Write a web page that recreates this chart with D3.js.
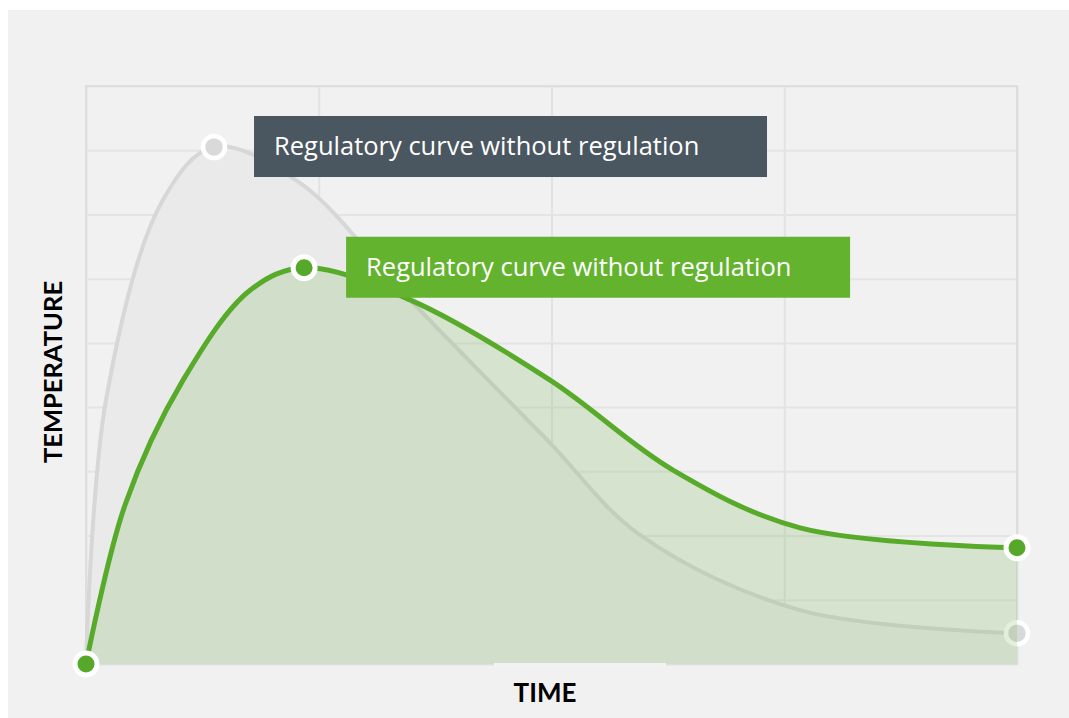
<!DOCTYPE html>
<html>
<head>
<meta charset="utf-8">
<script src="https://cdn.jsdelivr.net/npm/d3@7"></script>
<style>
  body { margin: 0; background: #ffffff; }
  svg { display: block; }
</style>
</head>
<body>
<div id="chart"></div>
<script>
var svgWidth = 1069;
var svgHeight = 718;

var margin = { top: 86, right: 52, bottom: 54, left: 86 };
var width = 1017 - margin.left;
var height = 664 - margin.top;

// time grid (4 columns) and temperature grid (9 rows)
var xTicks = [0, 10, 20, 30, 40];
var yTicks = [0, 1, 2, 3, 4, 5, 6, 7, 8, 9];

// curve without regulation (grey)
var greyTime = [0, 0.86, 3.31, 5.5, 9.19, 13.92, 19.81, 23.8, 30.68, 40];
var greyTemp = [0, 4.11, 7.23, 8.05, 7.49, 5.67, 3.49, 2.01, 0.84, 0.48];
var greyMarkers = [3, 9];

// regulated curve (green)
var greenTime = [0, 1.68, 4.17, 7.05, 9.37, 13.92, 19.94, 25.22, 30.68, 40];
var greenTemp = [0, 2.48, 4.42, 5.82, 6.17, 5.67, 4.42, 3.02, 2.12, 1.81];
var greenMarkers = [0, 4, 9];

var legendLabels = ["Regulatory curve without regulation", "Regulatory curve without regulation"];

var greyData = greyTime.map(function(t, i) { return { t: t, v: greyTemp[i] }; });
var greenData = greenTime.map(function(t, i) { return { t: t, v: greenTemp[i] }; });

var svg = d3.select("#chart")
  .append("svg")
  .attr("width", svgWidth)
  .attr("height", svgHeight);

// panel background
svg.append("rect")
  .attr("x", 8)
  .attr("y", 10)
  .attr("width", svgWidth - 8)
  .attr("height", svgHeight - 10)
  .attr("fill", "#f1f1f1");

var chartGroup = svg.append("g")
  .attr("transform", `translate(${margin.left}, ${margin.top})`);

var xScale = d3.scaleLinear().domain([0, 40]).range([0, width]);
var yScale = d3.scaleLinear().domain([0, 9]).range([height, 0]);

// grid
chartGroup.append("g")
  .call(d3.axisBottom(xScale).tickValues(xTicks).tickSize(height).tickFormat(""))
  .call(g => g.select(".domain").remove())
  .selectAll("line")
  .attr("stroke", "#e2e2e2")
  .attr("stroke-width", 2);

chartGroup.append("g")
  .call(d3.axisLeft(yScale).tickValues(yTicks).tickSize(-width).tickFormat(""))
  .call(g => g.select(".domain").remove())
  .selectAll("line")
  .attr("stroke", "#e4e4e4")
  .attr("stroke-width", 2);

// plot border
chartGroup.append("rect")
  .attr("width", width)
  .attr("height", height)
  .attr("fill", "none")
  .attr("stroke", "#dedede")
  .attr("stroke-width", 2);

var curve = d3.curveCatmullRom.alpha(0.5);

var area = d3.area()
  .x(d => xScale(d.t))
  .y0(yScale(0))
  .y1(d => yScale(d.v))
  .curve(curve);

var line = d3.line()
  .x(d => xScale(d.t))
  .y(d => yScale(d.v))
  .curve(curve);

// grey series
chartGroup.append("path")
  .datum(greyData)
  .attr("d", area)
  .attr("fill", "#eaeaea");

chartGroup.append("path")
  .datum(greyData)
  .attr("d", line)
  .attr("fill", "none")
  .attr("stroke", "#d7d7d7")
  .attr("stroke-width", 4);

chartGroup.selectAll(".greyDot")
  .data(greyMarkers.map(i => greyData[i]))
  .enter()
  .append("circle")
  .attr("class", "greyDot")
  .attr("cx", d => xScale(d.t))
  .attr("cy", d => yScale(d.v))
  .attr("r", 11)
  .attr("fill", "#d9d9d9")
  .attr("stroke", "#ffffff")
  .attr("stroke-width", 4.5);

// green series
chartGroup.append("path")
  .datum(greenData)
  .attr("d", area)
  .attr("fill", "rgba(110, 175, 70, 0.2)");

chartGroup.append("path")
  .datum(greenData)
  .attr("d", line)
  .attr("fill", "none")
  .attr("stroke", "#58ab2a")
  .attr("stroke-width", 5);

chartGroup.selectAll(".greenDot")
  .data(greenMarkers.map(i => greenData[i]))
  .enter()
  .append("circle")
  .attr("class", "greenDot")
  .attr("cx", d => xScale(d.t))
  .attr("cy", d => yScale(d.v))
  .attr("r", 11)
  .attr("fill", "#55a82a")
  .attr("stroke", "#ffffff")
  .attr("stroke-width", 5);

// label boxes next to the peaks
var boxes = [
  { peak: greyData[greyMarkers[0]], fill: "#4a5660", w: 513, dx: 40 },
  { peak: greenData[greenMarkers[1]], fill: "#63b32e", w: 504, dx: 42 }
];

boxes.forEach(function(b, i) {
  var bx = xScale(b.peak.t) + b.dx;
  var by = yScale(b.peak.v) - 31;
  chartGroup.append("rect")
    .attr("x", bx)
    .attr("y", by)
    .attr("width", b.w)
    .attr("height", 61)
    .attr("fill", b.fill);
  chartGroup.append("text")
    .attr("x", bx + 20)
    .attr("y", by + 39)
    .attr("fill", "#ffffff")
    .attr("font-family", "'Open Sans', sans-serif")
    .attr("font-size", "25.5px")
    .text(legendLabels[i]);
});

// axis titles
svg.append("rect")
  .attr("x", 494)
  .attr("y", 663)
  .attr("width", 172)
  .attr("height", 5)
  .attr("fill", "#f2f2f2");

svg.append("text")
  .attr("x", 545)
  .attr("y", 702)
  .attr("text-anchor", "middle")
  .attr("font-family", "Lato, sans-serif")
  .attr("font-weight", "bold")
  .attr("font-size", "26px")
  .attr("fill", "#000000")
  .text("TIME");

svg.append("text")
  .attr("transform", "translate(62, 372) rotate(-90)")
  .attr("text-anchor", "middle")
  .attr("font-family", "Lato, sans-serif")
  .attr("font-weight", "bold")
  .attr("font-size", "25.5px")
  .attr("fill", "#000000")
  .text("TEMPERATURE");
</script>
</body>
</html>
